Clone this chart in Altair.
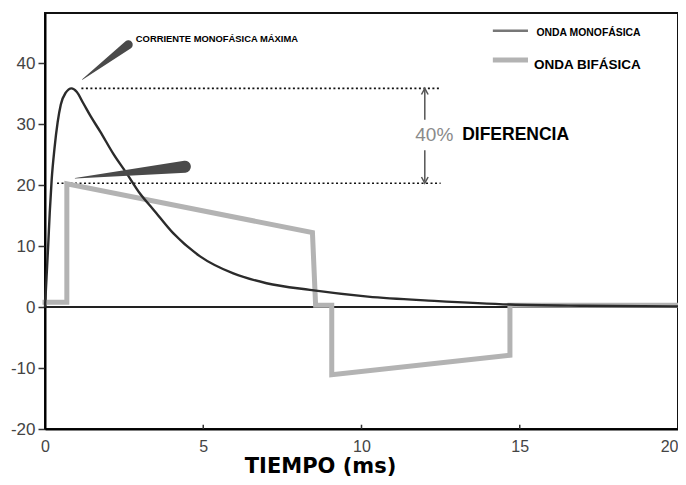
import altair as alt
import pandas as pd

# ---- data ----
mono_t = [0, 0.05, 0.1, 0.15, 0.21, 0.3, 0.4, 0.5, 0.65, 0.84, 1.0, 1.21, 1.45, 1.74,
          2.16, 2.58, 3.0, 3.42, 4.05, 4.9, 5.95, 7.0, 8.37, 10.2, 12.3, 14.7, 17.0, 20.0]
mono_i = [0, 5, 10, 15.5, 20.8, 26.0, 30.3, 33.2, 35.1, 35.85, 35.3, 33.4, 31.2, 28.8,
          25.1, 21.9, 18.6, 16.0, 12.1, 8.3, 5.5, 3.9, 2.8, 1.7, 1.0, 0.4, 0.2, 0.1]

bi_t = [0, 0.69, 0.69, 8.45, 8.55, 9.06, 9.06, 14.69, 14.69, 20]
bi_i = [0.8, 0.8, 20.2, 12.2, 0.3, 0.3, -11.1, -7.9, 0.3, 0.3]

peak_mono = 35.85
peak_bi = 20.3

x_ticks = [0, 5, 10, 15, 20]
y_ticks = [-20, -10, 0, 10, 20, 30, 40]
inner_ticks = [5, 10, 15]

wedge_id = ["a", "a", "b", "b"]
wedge_t = [1.18, 2.63, 0.95, 4.42]
wedge_i = [37.3, 43.0, 21.1, 23.0]
wedge_w = [0.5, 9, 0.5, 12]

FONT = "Liberation Sans"

X = alt.Scale(domain=[0, 20], nice=False, zero=False)
Y = alt.Scale(domain=[-20, 48.2], nice=False, zero=False)

mono = pd.DataFrame({"t": mono_t, "i": mono_i, "k": range(len(mono_t))})
bi = pd.DataFrame({"t": bi_t, "i": bi_i, "k": range(len(bi_t))})
wedges = pd.DataFrame({"g": wedge_id, "t": wedge_t, "i": wedge_i, "w": wedge_w,
                       "k": range(len(wedge_t))})

base_x = alt.X("t:Q", scale=X,
               axis=alt.Axis(values=x_ticks, title="TIEMPO (ms)", ticks=False,
                             labelPadding=9, labelFontSize=16, labelColor="#444",
                             labelFont=FONT, domainColor="black",
                             labelAlign={"condition": {"test": "datum.value == 20",
                                                       "value": "right"},
                                         "value": "center"},
                             domainWidth=2, grid=False, titleFont="DejaVu Sans",
                             titleFontSize=21, titleFontWeight="bold", titleColor="black",
                             titleX=275, titleY=37.5, titleBaseline="middle",
                             titleAnchor="start", titleAlign="center"))
base_y = alt.Y("i:Q", scale=Y,
               axis=alt.Axis(values=y_ticks, title=None, tickSize=7, tickColor="#333",
                             tickWidth=1.5, labelPadding=3, labelFontSize=17,
                             labelExpr="'' + datum.value",
                             labelColor="#444", labelFont=FONT,
                             domainColor="black", domainWidth=2, grid=False))

zero = pd.DataFrame({"t": [0], "t2": [20], "i": [0]})
zero_line = alt.Chart(zero).mark_rule(color="#222", strokeWidth=1.8).encode(
    x=base_x, x2="t2:Q", y=base_y)

ticks_df = pd.DataFrame({"t": inner_ticks, "i": [-20] * 3, "i2": [-19.3] * 3})
xticks = alt.Chart(ticks_df).mark_rule(color="#333", strokeWidth=1.5).encode(
    x=alt.X("t:Q", scale=X), y=alt.Y("i:Q", scale=Y), y2="i2:Q")

dots = pd.DataFrame({"t": [1.15, 0.38], "t2": [12.45, 12.5], "i": [peak_mono, peak_bi]})
dotted = alt.Chart(dots).mark_rule(color="#111", strokeWidth=1.6, strokeDash=[2, 2.5]).encode(
    x=alt.X("t:Q", scale=X), x2="t2:Q", y=alt.Y("i:Q", scale=Y))

bi_line = alt.Chart(bi).mark_line(color="#b3b3b3", strokeWidth=5, strokeJoin="miter",
                                  strokeCap="square").encode(
    x=alt.X("t:Q", scale=X), y=alt.Y("i:Q", scale=Y), order="k:Q")

mono_line = alt.Chart(mono).mark_line(color="#2b2b2b", strokeWidth=2.4,
                                      interpolate="monotone").encode(
    x=alt.X("t:Q", scale=X), y=alt.Y("i:Q", scale=Y), order="k:Q")

wedge = alt.Chart(wedges).mark_trail(color="#4a4a4a").encode(
    x=alt.X("t:Q", scale=X), y=alt.Y("i:Q", scale=Y),
    size=alt.Size("w:Q", scale=None), detail="g:N", order="k:Q")

# difference arrow
shafts = pd.DataFrame({"t": [12.0, 12.0], "i": [35.6, 25.7], "i2": [30.7, 20.6]})
shaft = alt.Chart(shafts).mark_rule(color="#555", strokeWidth=1.5).encode(
    x=alt.X("t:Q", scale=X), y=alt.Y("i:Q", scale=Y), y2="i2:Q")
heads_up = pd.DataFrame({"t": [12.0], "i": [peak_mono]})
heads_dn = pd.DataFrame({"t": [12.0], "i": [peak_bi]})
head_up = alt.Chart(heads_up).mark_point(shape="M-0.7,1.3L0,0L0.7,1.3", filled=False,
                                         color="#555", strokeWidth=1.5, size=90, opacity=1).encode(
    x=alt.X("t:Q", scale=X), y=alt.Y("i:Q", scale=Y))
head_dn = alt.Chart(heads_dn).mark_point(shape="M-0.7,-1.3L0,0L0.7,-1.3", filled=False,
                                         color="#555", strokeWidth=1.5, size=90, opacity=1).encode(
    x=alt.X("t:Q", scale=X), y=alt.Y("i:Q", scale=Y))

def label(t, i, text, size, color="black", font=FONT, weight="bold"):
    df = pd.DataFrame({"t": [t], "i": [i], "s": [text]})
    return alt.Chart(df).mark_text(align="left", baseline="middle", fontSize=size,
                                   color=color, font=font, fontWeight=weight).encode(
        x=alt.X("t:Q", scale=X), y=alt.Y("i:Q", scale=Y), text="s:N")

pct = label(11.7, 28.2, "40%", 19, color="#8a8a8a", weight="normal")
dif = label(13.18, 28.2, "DIFERENCIA", 17.5)
corr = label(2.87, 44.0, "CORRIENTE MONOFÁSICA MÁXIMA", 9.4)

# legend drawn in the plot
leg = pd.DataFrame({"t": [14.15, 14.15], "t2": [15.26, 15.26], "i": [45.3, 40.5],
                    "g": ["m", "b"]})
leg_m = alt.Chart(leg[leg.g == "m"]).mark_rule(color="#777", strokeWidth=2.5).encode(
    x=alt.X("t:Q", scale=X), x2="t2:Q", y=alt.Y("i:Q", scale=Y))
leg_b = alt.Chart(leg[leg.g == "b"]).mark_rule(color="#b3b3b3", strokeWidth=5).encode(
    x=alt.X("t:Q", scale=X), x2="t2:Q", y=alt.Y("i:Q", scale=Y))
leg_mt = label(15.53, 44.9, "ONDA MONOFÁSICA", 10.4)
leg_bt = label(15.45, 39.7, "ONDA BIFÁSICA", 13.5)

chart = alt.layer(
    zero_line, xticks, dotted, bi_line, mono_line, wedge, shaft, head_up, head_dn,
    pct, dif, corr, leg_m, leg_b, leg_mt, leg_bt
).properties(
    width=633, height=416,
    autosize=alt.AutoSizeParams(type="none"),
    padding={"left": 37, "top": 5, "right": 0, "bottom": 48},
    background="white",
).configure_view(stroke="#111", strokeWidth=2)

chart.save("out.html", embed_options={"renderer": "svg", "actions": False})
